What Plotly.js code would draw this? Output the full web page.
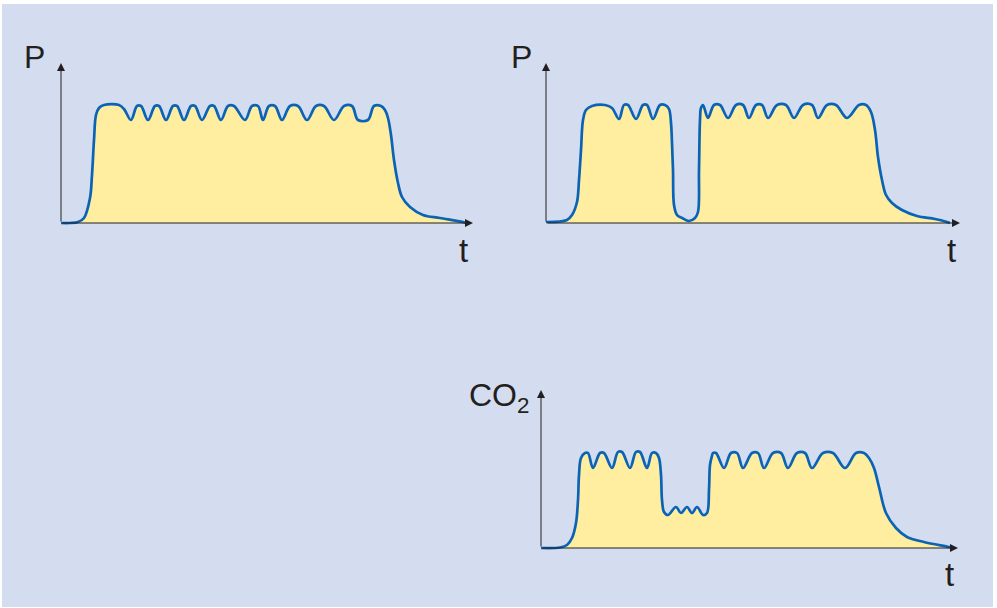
<!DOCTYPE html>
<html><head><meta charset="utf-8">
<script src="https://cdn.plot.ly/plotly-3.0.1.min.js"></script>
<style>html,body{margin:0;padding:0;background:#fff}#chart{width:997px;height:608px}</style>
</head><body><div id="chart"></div>
<script>
// Panel 1: pressure P over time t
const t1 = [0, 9, 17, 23, 29, 31, 33, 35, 38, 43, 58, 63, 70, 76, 80, 87, 94, 98, 105, 112, 116, 123, 130, 134, 141, 149, 153, 160, 167, 173, 184, 191, 197, 202, 208, 214, 221, 229, 237, 246, 255, 263, 273, 283, 291, 297, 307, 313, 320, 324, 327, 330, 333, 337, 341, 349, 362, 379, 402, 405];
const p1 = [0, 0, 1, 5, 25, 48, 83, 108, 115, 118, 118, 114, 103, 117, 117, 103, 117, 117, 103, 117, 117, 103, 117, 117, 103, 117, 117, 103, 117, 117, 103, 117, 117, 103, 117, 117, 103, 117, 117, 103, 117, 117, 103, 117, 117, 103, 103, 117, 117, 113, 105, 88, 63, 40, 26, 16, 8, 5, 1, 0];
// Panel 2: pressure P with interruption
const t2 = [0, 21, 26, 31, 33, 35, 37, 40, 46, 59, 66, 73, 78, 82, 90, 97, 101, 107, 114, 119, 123, 125, 126, 127, 128, 131, 136, 143, 149, 152, 153, 154, 155, 157, 162, 168, 174, 182, 190, 197, 203, 210, 216, 222, 231, 240, 248, 257, 266, 272, 281, 290, 301, 313, 320, 325, 329, 332, 336, 340, 346, 356, 371, 389, 401, 404];
const p2 = [1, 3, 8, 21, 43, 73, 103, 113, 117, 118, 115, 104, 118, 118, 104, 118, 118, 104, 118, 118, 114, 100, 80, 53, 18, 8, 5, 2, 5, 11, 53, 103, 115, 118, 105, 118, 118, 105, 118, 118, 105, 118, 118, 105, 118, 118, 105, 118, 118, 105, 118, 118, 105, 118, 118, 111, 93, 66, 43, 28, 20, 13, 7, 4, 1, 0];
// Panel 3: CO2 over time t
const t3 = [0, 19, 26, 31, 35, 37, 38, 40, 44, 47, 52, 59, 63, 71, 77, 81, 89, 95, 99, 106, 111, 115, 118, 120, 121, 123, 127, 135, 140, 146, 151, 156, 162, 166, 168, 169, 171, 172, 175, 183, 190, 196, 202, 211, 217, 223, 232, 240, 247, 256, 264, 271, 282, 292, 304, 315, 323, 328, 333, 338, 345, 355, 366, 383, 408, 412];
const c3 = [0, 0.5, 3, 10, 25, 48, 73, 90, 95, 95, 80, 95, 95, 80, 96, 96, 80, 96, 96, 80, 95, 95, 90, 73, 48, 36, 33, 41, 35, 41, 35, 41, 33, 35, 58, 83, 92, 95, 95, 80, 95, 95, 80, 95, 95, 80, 95, 95, 80, 95, 95, 80, 95, 95, 80, 95, 95, 90, 80, 61, 35, 20, 11, 6, 1, 0];

const yLabels = ['P', 'P', 'CO<sub>2</sub>'];
const xLabel = 't';

const W = 997, H = 608, PAD = 6;
// panel geometry in page pixels: origin, arrow tips, label anchors
const panels = [
  {ox: 61, oy: 223, tipX: 473, topY: 63, t: t1, v: p1, yl: [47, 57], xl: [463, 250]},
  {ox: 546, oy: 223, tipX: 960, topY: 63, t: t2, v: p2, yl: [534, 57], xl: [951, 250]},
  {ox: 541, oy: 548, tipX: 958, topY: 390, t: t3, v: c3, yl: [531, 397], xl: [949, 574]}
];

const LINE = '#0b63b5', FILL = '#ffeda0', INK = '#231f20', BG = '#d4ddef';
const FONT = 'Liberation Sans, Arial, Helvetica, sans-serif';

const data = [];
const layout = {
  width: W, height: H, margin: {l: 0, r: 0, t: 0, b: 0},
  paper_bgcolor: '#ffffff', plot_bgcolor: 'rgba(0,0,0,0)',
  showlegend: false, hovermode: false,
  shapes: [{type: 'rect', xref: 'paper', yref: 'paper', x0: 2 / W, x1: 993 / W, y0: 1 / H, y1: (H - 4) / H,
            fillcolor: BG, line: {width: 0}, layer: 'below'}],
  annotations: []
};

panels.forEach((pn, i) => {
  const n = i + 1;
  const sfx = n === 1 ? '' : String(n);
  const xa = 'x' + sfx, ya = 'y' + sfx;
  const tMax = pn.tipX - pn.ox, vMax = pn.oy - pn.topY;
  layout['xaxis' + sfx] = {
    domain: [(pn.ox - PAD) / W, (pn.tipX + PAD) / W], range: [-PAD, tMax + PAD],
    visible: false, fixedrange: true, anchor: ya
  };
  layout['yaxis' + sfx] = {
    domain: [(H - pn.oy - PAD) / H, (H - pn.topY + PAD) / H], range: [-PAD, vMax + PAD],
    visible: false, fixedrange: true, anchor: xa
  };
  data.push({
    type: 'scatter', mode: 'lines', x: pn.t, y: pn.v, xaxis: xa, yaxis: ya,
    fill: 'tozeroy', fillcolor: FILL,
    line: {color: LINE, width: 2.7, shape: 'spline', smoothing: 1},
    hoverinfo: 'skip'
  });
  // axis arrows
  layout.annotations.push({
    xref: xa, yref: ya, axref: xa, ayref: ya, x: tMax, y: 0, ax: 0, ay: 0, text: '',
    showarrow: true, arrowhead: 2, arrowsize: 1.6, arrowwidth: 1, arrowcolor: INK
  });
  layout.annotations.push({
    xref: xa, yref: ya, axref: xa, ayref: ya, x: 0, y: vMax, ax: 0, ay: 0, text: '',
    showarrow: true, arrowhead: 2, arrowsize: 1.6, arrowwidth: 1, arrowcolor: INK
  });
  layout.annotations.push({
    xref: 'paper', yref: 'paper', x: pn.yl[0] / W, y: (H - pn.yl[1]) / H, xanchor: 'right', yanchor: 'middle',
    text: yLabels[i], showarrow: false, font: {family: FONT, size: 32, color: INK}
  });
  layout.annotations.push({
    xref: 'paper', yref: 'paper', x: pn.xl[0] / W, y: (H - pn.xl[1]) / H, xanchor: 'center', yanchor: 'middle',
    text: xLabel, showarrow: false, font: {family: FONT, size: 33, color: INK}
  });
});

Plotly.newPlot('chart', data, layout, {staticPlot: true, displayModeBar: false});
</script></body></html>
